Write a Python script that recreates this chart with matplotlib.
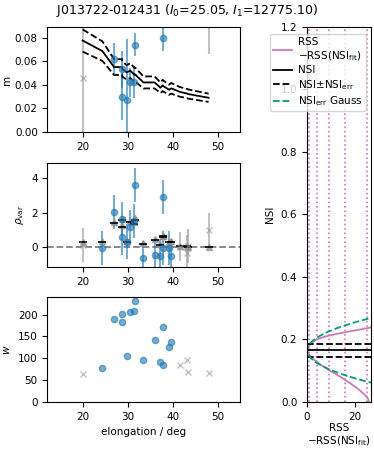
import matplotlib
matplotlib.use('Agg')
import matplotlib.pyplot as plt

elong = [20.0, 24.4, 27.0, 28.8, 28.8, 29.8, 30.6, 31.5, 31.6, 33.5,
         36.0, 37.3, 37.8, 37.9, 39.2, 39.7, 41.6, 43.3, 43.4, 48.0]
good = [0, 1, 1, 1, 1, 1, 1, 1, 1, 1, 1, 1, 1, 1, 1, 1, 0, 0, 0, 0]
m_obs = [0.046, 0.12, 0.062, 0.053, 0.030, 0.027, 0.042, 0.042, 0.074, 0.13,
         0.11, 0.12, 0.11, 0.080, 0.12, 0.11, 0.13, 0.12, 0.14, 0.100]
m_err = [0.09, 0.01, 0.013, 0.016, 0.02, 0.052, 0.012, 0.013, 0.010, 0.01,
         0.01, 0.01, 0.01, 0.011, 0.01, 0.01, 0.02, 0.02, 0.02, 0.034]
m_nsi = [0.0775, 0.0685, 0.055, 0.055, 0.0535, 0.0505, 0.052, 0.0485, 0.049, 0.042,
         0.042, 0.0375, 0.0395, 0.039, 0.0358, 0.037, 0.034, 0.0325, 0.0322, 0.029]
m_nsi_hi = [0.0869, 0.0768, 0.0617, 0.0617, 0.0600, 0.0566, 0.0583, 0.0544, 0.0549, 0.0471,
            0.0471, 0.0420, 0.0443, 0.0437, 0.0401, 0.0415, 0.0381, 0.0364, 0.0361, 0.0325]
m_nsi_lo = [0.0681, 0.0602, 0.0483, 0.0483, 0.0470, 0.0444, 0.0457, 0.0426, 0.0431, 0.0369,
            0.0369, 0.0330, 0.0347, 0.0343, 0.0315, 0.0325, 0.0299, 0.0286, 0.0283, 0.0255]
rho = [0.1, -0.1, 2.04, 0.54, 1.6, 0.3, 1.15, 1.5, 3.63, -0.68,
       -0.48, -0.53, -0.1, 2.9, -0.1, -0.55, 0.0, -0.35, 0.05, 1.0]
rho_err = [1.0, 1.0, 1.0, 1.0, 1.0, 1.0, 1.0, 1.0, 1.0, 1.0,
           1.0, 1.0, 1.0, 1.0, 1.0, 1.0, 0.85, 1.05, 1.0, 0.95]
rho_model = [0.3, 0.35, 1.45, 1.6, 1.25, 0.35, 1.5, 1.45, 1.65, 0.2,
             0.45, 0.15, 0.6, 0.65, 0.3, 0.35, 0.05, 0.05, 0.0, 0.0]
rho_model_lo = [0.25, 0.3, 1.4, 1.55, 1.15, 0.3, 1.45, 1.35, 1.55, 0.18,
                0.4, 0.12, 0.55, 0.6, 0.25, 0.3, 0.04, 0.04, 0.0, 0.0]
w = [63, 78, 189, 201, 183, 106, 206, 209, 231, 97,
     141, 91, 84, 172, 126, 137, 84, 95, 69, 66]

# NSI fit
nsi_fit = 0.165
nsi_lo = 0.145
nsi_hi = 0.185
sigma_levels = [1, 4, 9, 16, 25]
curve_nsi = [0.0, 0.01, 0.02, 0.04, 0.06, 0.08, 0.10, 0.12, 0.14, 0.155, 0.165,
             0.175, 0.19, 0.20, 0.21, 0.22, 0.23, 0.24]
curve_rss = [25.9, 25.6, 24.6, 21.6, 18.0, 14.0, 9.6, 5.4, 2.0, 0.5, 0.0,
             0.4, 2.0, 4.0, 8.0, 14.0, 21.0, 28.0]
gauss_nsi = [0.05, 0.065, 0.075, 0.085, 0.095, 0.105, 0.115, 0.125, 0.135, 0.145, 0.155, 0.165,
             0.175, 0.185, 0.195, 0.205, 0.215, 0.225, 0.235, 0.245, 0.255, 0.265, 0.28]
gauss_rss = [33.1, 25.0, 20.25, 16.0, 12.25, 9.0, 6.25, 4.0, 2.25, 1.0, 0.25, 0.0,
             0.25, 1.0, 2.25, 4.0, 6.25, 9.0, 12.25, 16.0, 20.25, 25.0, 33.1]

blue = '#1f77b4'
grey = '0.6'
pink = '#cc78bc'
green = '#029e73'
plt.rcParams['font.size'] = 7.5

fig = plt.figure(figsize=(3.74, 4.49), dpi=100)
ax1 = fig.add_axes([0.127, 0.706, 0.515, 0.234])
ax2 = fig.add_axes([0.127, 0.405, 0.515, 0.232])
ax3 = fig.add_axes([0.127, 0.105, 0.515, 0.234])
ax4 = fig.add_axes([0.821, 0.105, 0.171, 0.835])

gi = [i for i in range(len(elong)) if good[i]]
bi = [i for i in range(len(elong)) if not good[i]]
sel = lambda a, idx: [a[i] for i in idx]

# m
ax1.errorbar(sel(elong, bi), sel(m_obs, bi), yerr=sel(m_err, bi), fmt='x', color=grey,
             alpha=0.6, ms=4)
ax1.errorbar(sel(elong, gi), sel(m_obs, gi), yerr=sel(m_err, gi), fmt='o', color=blue,
             alpha=0.6, ms=4.5)
ax1.plot(elong, m_nsi, 'k-', lw=1.3)
ax1.plot(elong, m_nsi_hi, 'k--', lw=1.3)
ax1.plot(elong, m_nsi_lo, 'k--', lw=1.3)
ax1.set_ylim(0, 0.089)
ax1.set_yticks([0, 0.02, 0.04, 0.06, 0.08])
ax1.set_ylabel('m', labelpad=2)

# rho_var
ax2.axhline(0, color='0.5', ls='--', lw=1.3)
ax2.errorbar(sel(elong, bi), sel(rho, bi), yerr=sel(rho_err, bi), fmt='x', color=grey,
             alpha=0.6, ms=4)
ax2.errorbar(sel(elong, gi), sel(rho, gi), yerr=sel(rho_err, gi), fmt='o', color=blue,
             alpha=0.6, ms=4.5)
ax2.plot(elong, rho_model, '^', color='0.55', alpha=0.7, ms=5)
ax2.plot(elong, rho_model_lo, '_', color='k', ms=6, mew=1.2)
ax2.set_ylim(-1.2, 4.9)
ax2.set_yticks([0, 2, 4])
ax2.set_ylabel(r'$\rho_{\rm var}$')

# w
ax3.plot(sel(elong, gi), sel(w, gi), 'o', color=blue, alpha=0.6, ms=4.5)
ax3.plot(sel(elong, bi), sel(w, bi), 'x', color=grey, alpha=0.6, ms=4)
ax3.set_ylim(0, 241)
ax3.set_ylabel('$w$')
ax3.set_xlabel('elongation / deg')

for ax in (ax1, ax2, ax3):
    ax.set_xlim(12.2, 55)
    ax.set_xticks([20, 30, 40, 50])

# NSI panel
for lev in sigma_levels:
    ax4.axvline(lev, color=pink, ls=':', lw=1.2)
ax4.plot(curve_rss, curve_nsi, color=pink, lw=1.3,
         label='RSS\n$-$RSS(NSI$_{\\rm fit}$)')
ax4.axhline(nsi_fit, color='k', lw=1.3, label='NSI')
ax4.axhline(nsi_lo, color='k', ls='--', lw=1.3, label='NSI$\\pm$NSI$_{\\rm err}$')
ax4.axhline(nsi_hi, color='k', ls='--', lw=1.3)
ax4.plot(gauss_rss, gauss_nsi, color=green, ls='--', lw=1.3,
         label='NSI$_{\\rm err}$ Gauss')
ax4.set_xlim(0, 26.8)
ax4.set_ylim(0, 1.2)
ax4.set_xticks([0, 20])
ax4.set_ylabel('NSI')
ax4.set_xlabel('RSS\n$-$RSS(NSI$_{\\rm fit}$)', labelpad=1, linespacing=1.1)
ax4.legend(loc='upper right', bbox_to_anchor=(1.0, 0.995), fontsize=7.5,
           handlelength=1.8, borderpad=0.3, labelspacing=0.25, handletextpad=0.6)

fig.suptitle('J013722-012431 ($I_0$=25.05, $I_1$=12775.10)', fontsize=9, y=0.995)
fig.savefig('out.png', dpi=100)
